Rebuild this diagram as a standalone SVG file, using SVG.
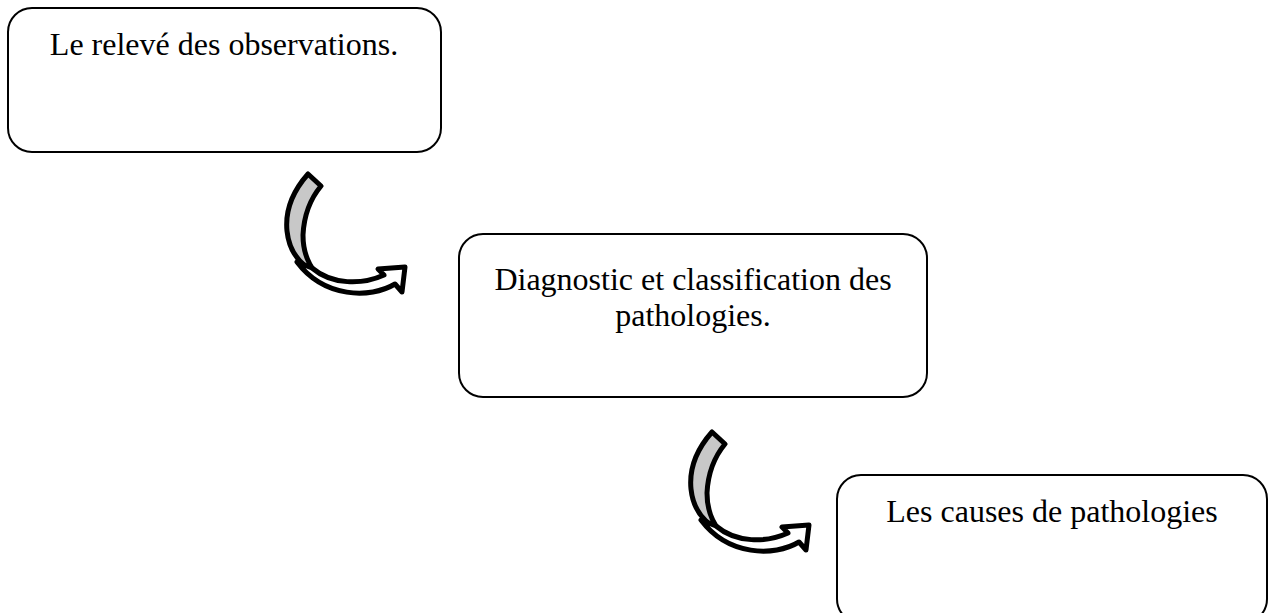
<svg xmlns="http://www.w3.org/2000/svg" width="1269" height="613" viewBox="0 0 1269 613">
<style>
.box{fill:#fff;stroke:#000;stroke-width:2}
.lbl{font-family:"Liberation Serif","Times New Roman",serif;font-size:32px;fill:#000;text-anchor:middle}
.crest{fill:#c8c8c8;stroke:#000;stroke-width:5;stroke-linejoin:round}
.band{fill:#fff;stroke:#000;stroke-width:5;stroke-linejoin:round}
</style>
<defs>
<g id="curvedArrow">
<path class="crest" d="M308,174 L321,186 C311,198 304,215 303,235 C303,250 307,262 315,272 C299,264 289,250 287,231 C285,211 293,191 308,174 Z"/>
<path class="band" d="M312,268 C332,285 362,285 384,275 L378,269 L405,267 L402,292 L395,284 C370,299 324,298 297,262 Z"/>
</g>
</defs>
<rect width="1269" height="613" fill="#fff"/>
<g id="connectors">
<use href="#curvedArrow"/>
<use href="#curvedArrow" transform="translate(404,258)"/>
</g>
<g id="node1">
<rect class="box" x="8" y="8" width="433" height="144" rx="24"/>
<text class="lbl" x="224" y="55">Le relevé des observations.</text>
</g>
<g id="node2">
<rect class="box" x="459" y="234" width="468" height="163" rx="24"/>
<text class="lbl" x="693" y="290">Diagnostic et classification des</text>
<text class="lbl" x="693" y="326">pathologies.</text>
</g>
<g id="node3">
<rect class="box" x="837" y="475" width="430" height="148" rx="24"/>
<text class="lbl" x="1052" y="522">Les causes de pathologies</text>
</g>
</svg>
